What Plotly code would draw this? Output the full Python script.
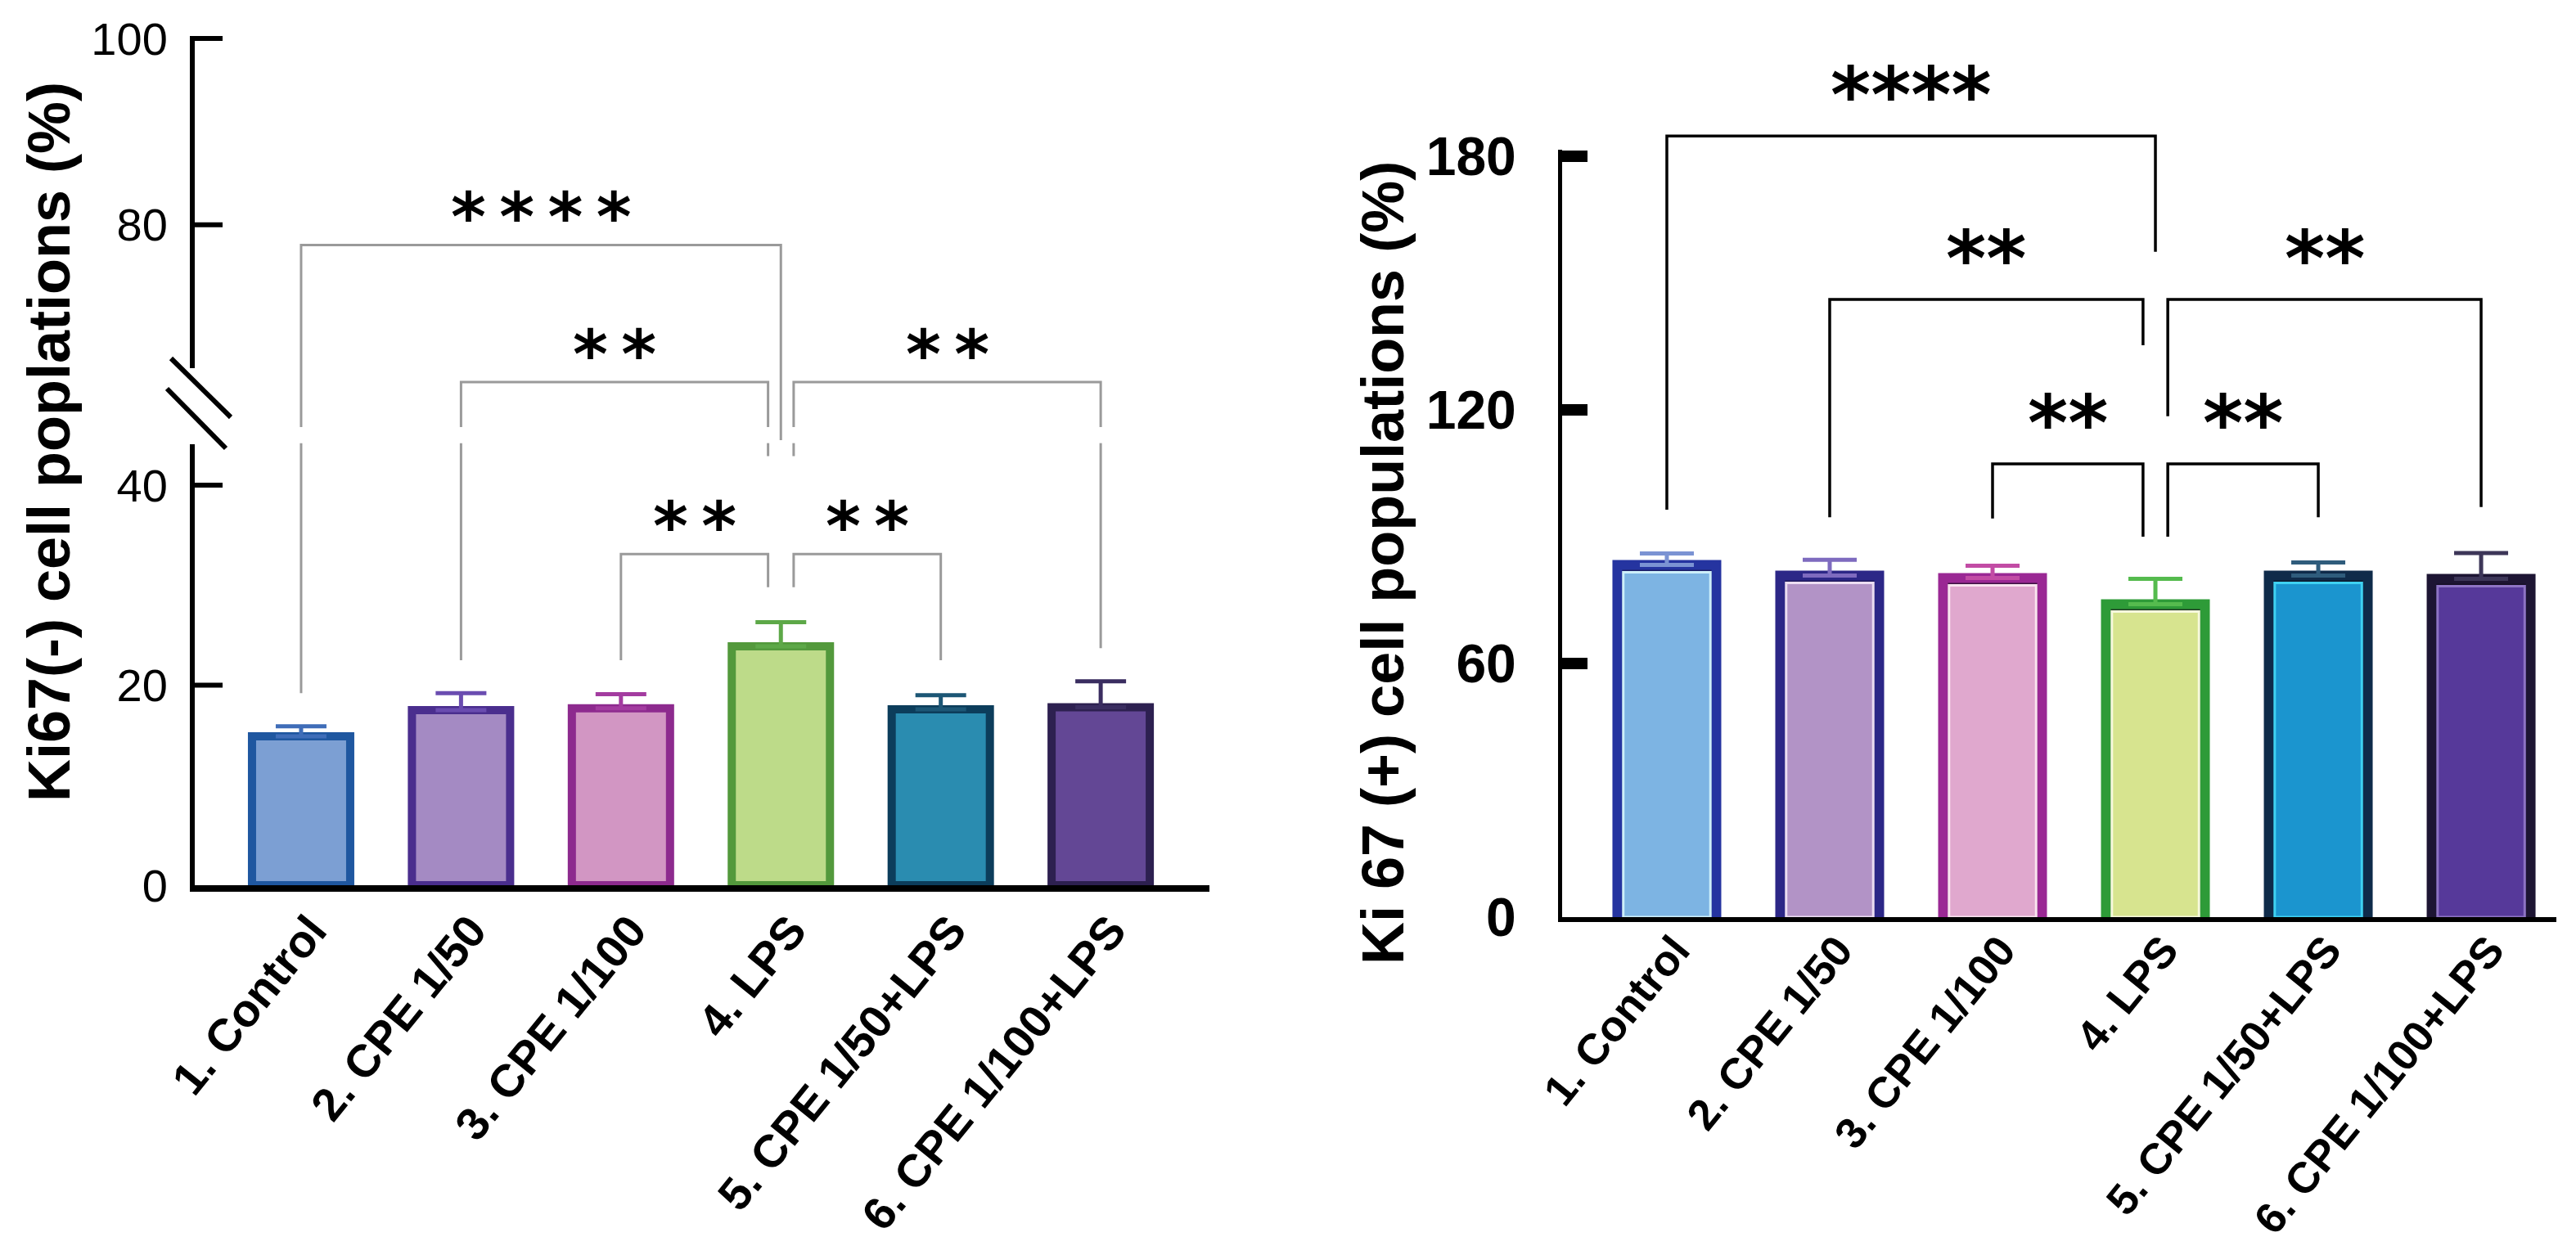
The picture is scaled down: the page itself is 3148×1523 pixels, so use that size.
import plotly.graph_objects as go

# ---------------- data ----------------
categories = ["1. Control", "2. CPE 1/50", "3. CPE 1/100", "4. LPS",
              "5. CPE 1/50+LPS", "6. CPE 1/100+LPS"]

ki67_neg_mean = [14.9, 17.5, 17.7, 23.9, 17.6, 17.8]
ki67_neg_sem = [1.0, 1.7, 1.4, 2.4, 1.4, 2.6]

ki67_pos_mean = [83.3, 80.8, 80.2, 74.0, 80.8, 80.0]
ki67_pos_sem = [2.7, 3.7, 2.9, 6.0, 3.1, 6.1]

neg_ticks_lower = [0, 20, 40]
neg_ticks_upper = [80, 100]
pos_ticks = [0, 60, 120, 180]

# significance comparisons: (group a, group b, label)
neg_comparisons = [(0, 3, "****"), (1, 3, "**"), (3, 5, "**"), (2, 3, "**"), (3, 4, "**")]
pos_comparisons = [(0, 3, "****"), (1, 3, "**"), (3, 5, "**"), (2, 3, "**"), (3, 4, "**")]

# ---------------- styles ----------------
neg_fill = ["#7C9FD3", "#A48AC3", "#D296C3", "#BDDB89", "#2A8CB0", "#634795"]
neg_edge = ["#1F57A0", "#4A2E8E", "#8D2A8E", "#53993C", "#0C3D5B", "#2D2050"]
neg_errc = ["#3F6DB8", "#6A4CB0", "#A33CA0", "#5DA848", "#1C5675", "#3A2D60"]

pos_fill = ["#7DB4E3", "#B293C6", "#E0A8CE", "#D7E48F", "#1B95CF", "#56399A"]
pos_edge = ["#2534A0", "#2C2787", "#9A2894", "#2E9B38", "#0F2B4A", "#1D1533"]
pos_band = ["#1C1F66", "#1E1A5A", "#3A1240", "#1E3A22", "#0A1A2E", "#150E26"]
pos_glow = ["#CDEFFA", "#ECDDF2", "#F9E3EF", "#F6F9DC", "#3FD2F2", "#8E74C4"]
pos_errc = ["#7B93D3", "#7E6BBF", "#C24CA5", "#55BB4E", "#2F5C7C", "#3D3658"]

# bracket geometry (heights / leg ends in the bracket-axis units, leg x offsets)
neg_bracket_geom = [
    dict(h=64.0, ea=19.2, eb=44.5, oa=0.0, ob=0.0),
    dict(h=50.3, ea=22.5, eb=42.9, oa=0.0, ob=-0.08),
    dict(h=50.3, ea=42.9, eb=23.7, oa=0.08, ob=0.0),
    dict(h=33.1, ea=22.5, eb=29.8, oa=0.0, ob=-0.08),
    dict(h=33.1, ea=29.8, eb=22.5, oa=0.08, ob=0.0),
]
neg_gap = (44.2, 45.8)
pos_bracket_geom = [
    dict(h=184.8, ea=96.4, eb=157.4, oa=0.0, ob=0.0),
    dict(h=146.1, ea=94.6, eb=135.3, oa=0.0, ob=-0.076),
    dict(h=146.1, ea=118.5, eb=97.0, oa=0.076, ob=0.0),
    dict(h=107.2, ea=94.3, eb=90.0, oa=0.0, ob=-0.076),
    dict(h=107.2, ea=90.0, eb=94.6, oa=0.076, ob=0.0),
]

W, H = 3148, 1523
FONT = "Arial, Liberation Sans, sans-serif"
STARFONT = "DejaVu Sans, sans-serif"
POS_PX_PER_UNIT = (1121 - 183) / 181.5   # right panel vertical scale (px per %)
NEG_X_RANGE = [-0.665, 5.68]
NEG_X_WIDTH_PX = 1478 - 238


def px(xp):
    return xp / W


def py(yp):
    return 1 - yp / H


fig = go.Figure()
idx = list(range(len(categories)))

# ---------------- bars ----------------
for i in idx:
    # left panel: Ki67(-)
    fig.add_trace(go.Bar(
        x=[i], y=[ki67_neg_mean[i]], width=[0.614], xaxis="x", yaxis="y",
        marker=dict(color=neg_fill[i], line=dict(color=neg_edge[i], width=10)),
        error_y=dict(type="data", array=[ki67_neg_sem[i]], arrayminus=[0], symmetric=False,
                     color=neg_errc[i], thickness=5, width=31),
        showlegend=False, hoverinfo="skip"))
    # right panel: Ki67(+) — outer frame with dark top band
    fig.add_trace(go.Bar(
        x=[i], y=[ki67_pos_mean[i]], width=[0.608], xaxis="x2", yaxis="y4",
        marker=dict(color=pos_band[i], line=dict(color=pos_edge[i], width=12)),
        error_y=dict(type="data", array=[ki67_pos_sem[i]], arrayminus=[0], symmetric=False,
                     color=pos_errc[i], thickness=5, width=33),
        showlegend=False, hoverinfo="skip"))
    # inner fill with thin light rim (inset by a few pixels below the bar top)
    fig.add_trace(go.Bar(
        x=[i], y=[ki67_pos_mean[i] - 9 / POS_PX_PER_UNIT], width=[0.535],
        xaxis="x2", yaxis="y4",
        marker=dict(color=pos_fill[i], line=dict(color=pos_glow[i], width=3)),
        showlegend=False, hoverinfo="skip"))

# empty trace so that the upper (broken) segment of the left y axis is drawn
fig.add_trace(go.Scatter(x=[], y=[], xaxis="x", yaxis="y2", showlegend=False,
                         hoverinfo="skip"))


# inward tick marks of the broken left y axis, placed at the tick values
def inward_ticks(vals, yref):
    for v in vals:
        fig.add_shape(type="line", xref="x domain", yref=yref,
                      x0=0, x1=34 / NEG_X_WIDTH_PX, y0=v, y1=v, layer="above",
                      line=dict(color="black", width=6))


inward_ticks(neg_ticks_lower[1:], "y")
inward_ticks(neg_ticks_upper, "y2")


# ---------------- brackets ----------------
def leg(x, top, bottom, gap=None):
    if gap and bottom < gap[0] and top > gap[1]:
        return [x, x, None, x, x], [top, gap[1], None, gap[0], bottom]
    return [x, x], [top, bottom]


def add_brackets(comps, geoms, xa, ya, color, gap, star_size, star_shift, lw):
    for (a, b, lab), g in zip(comps, geoms):
        xa_ = a + g["oa"]
        xb_ = b + g["ob"]
        x1, y1 = leg(xa_, g["h"], g["ea"], gap)
        x2, y2 = leg(xb_, g["h"], g["eb"], gap)
        xs = x1[::-1] + [xb_] + x2
        ys = y1[::-1] + [g["h"]] + y2
        fig.add_trace(go.Scatter(x=xs, y=ys, mode="lines", xaxis=xa, yaxis=ya,
                                 line=dict(color=color, width=lw), showlegend=False,
                                 hoverinfo="skip", connectgaps=False))
        fig.add_annotation(x=(xa_ + xb_) / 2, y=g["h"], xref=xa, yref=ya, text=lab,
                           showarrow=False, yanchor="middle", yshift=star_shift,
                           font=dict(family=STARFONT, size=star_size, color="black",
                                     weight="bold"))


add_brackets([(a, b, "\u2009".join(lab)) for a, b, lab in neg_comparisons],
             neg_bracket_geom, "x", "y3", "#9A9A9A", neg_gap, 82, 34, 3)
add_brackets(pos_comparisons, pos_bracket_geom, "x2", "y5", "black", None, 94, 50, 3.5)


# ---------------- layout ----------------
def cat_axis(size, standoff, shift):
    return dict(tickmode="array", tickvals=idx, ticktext=categories, tickangle=-51,
                tickfont=dict(family=FONT, size=size, color="black", weight="bold"),
                ticklabelstandoff=standoff, ticklabelshift=shift,
                ticks="", showgrid=False, zeroline=False, showline=True,
                linecolor="black", automargin=False)


yleft = dict(showline=True, linecolor="black", linewidth=6, ticks="",
             tickfont=dict(family=FONT, size=56, color="black"), ticklabelstandoff=16,
             showgrid=False, zeroline=False, automargin=False)

fig.update_layout(
    width=W, height=H, margin=dict(l=0, r=0, t=0, b=0, autoexpand=False),
    paper_bgcolor="white", plot_bgcolor="rgba(0,0,0,0)", barmode="overlay",
    showlegend=False,
    xaxis=dict(domain=[px(238), px(1478)], range=NEG_X_RANGE, anchor="y",
               linewidth=8, **cat_axis(56, -8, 12)),
    yaxis=dict(domain=[py(1082), py(543)], range=[0, 44.1], anchor="x",
               tickvals=neg_ticks_lower, **yleft),
    yaxis2=dict(domain=[py(450), py(44)], range=[64.6, 100.26], anchor="x",
                tickvals=neg_ticks_upper, **yleft),
    yaxis3=dict(domain=[py(1082), py(47)], range=[0, 84.66], anchor="x", visible=False,
                automargin=False),
    xaxis2=dict(domain=[px(1909), px(3124)], range=[-0.643, 5.462], anchor="y4",
                linewidth=6, **cat_axis(53, -18, 10)),
    yaxis4=dict(domain=[py(1121), py(183)], range=[0, 181.5], anchor="x2",
                showline=True, linecolor="black", linewidth=5, ticks="inside",
                ticklen=31, tickwidth=14, tickcolor="black", tickvals=pos_ticks,
                tickfont=dict(family=FONT, size=66, color="black", weight="bold"),
                ticklabelstandoff=38, showgrid=False, zeroline=False, automargin=False),
    yaxis5=dict(domain=[py(1121), 1.0], range=[0, 216.96], anchor="x2", visible=False,
                automargin=False),
)

# axis titles
fig.add_annotation(x=px(60), y=py(540), xref="paper", yref="paper",
                   xanchor="center", yanchor="middle",
                   text="Ki67(-) cell poplations (%)", textangle=-90, showarrow=False,
                   font=dict(family=FONT, size=72, color="black", weight="bold"))
fig.add_annotation(x=px(1690), y=py(688), xref="paper", yref="paper",
                   xanchor="center", yanchor="middle",
                   text="Ki 67 (+) cell populations (%)", textangle=-90, showarrow=False,
                   font=dict(family=FONT, size=72, color="black", weight="bold"))

# axis-break marks on the left y axis
for (x0, y0, x1, y1) in [(209, 438, 282, 510), (204, 475, 276, 548)]:
    fig.add_shape(type="line", xref="paper", yref="paper",
                  x0=px(x0), y0=py(y0), x1=px(x1), y1=py(y1),
                  line=dict(color="black", width=6))

fig.write_html("out.html")
